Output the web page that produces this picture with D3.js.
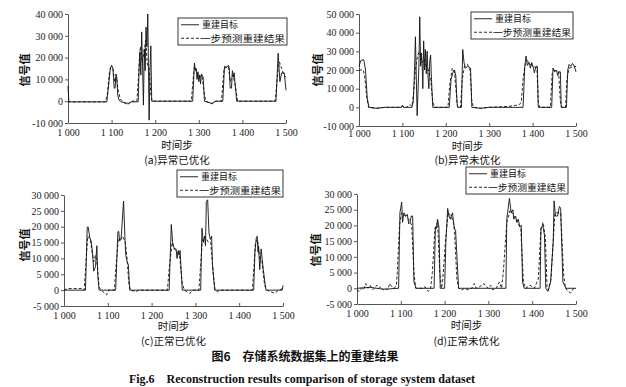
<!DOCTYPE html>
<meta charset="utf-8">
<style>
  body { margin: 0; background: #fff; }
  .tick text { font-family: "Liberation Serif", "DejaVu Serif", serif; font-size: 10px; fill: #222; }
  .axis path, .axis line { stroke: #555; }
  .cjk { font-family: "Noto Sans CJK SC", sans-serif; fill: #111; }
  .target { fill: none; stroke: #111; stroke-width: 0.9px; }
  .pred { fill: none; stroke: #111; stroke-width: 0.9px; stroke-dasharray: 3,2; }
</style>
<svg width="626" height="387"></svg>
<script src="https://cdn.jsdelivr.net/npm/d3@7/dist/d3.min.js"></script>
<script>

// x ticks shared by all panels
var xTicks = [1000, 1100, 1200, 1300, 1400, 1500]

// (a) 异常已优化
var targetA = [[1000,7000],[1002,-300],[1089,-300],[1092,5000],[1097,15000],[1100,16500],[1103,15000],[1106,6000],[1108,6000],
  [1110,12500],[1112,11000],[1114,3000],[1117,500],[1122,-300],[1138,-1000],[1145,-300],[1161,-300],[1163,15000],[1165,22600],
  [1167,12000],[1169,31800],[1171,16000],[1173,-1800],[1175,24000],[1177,14000],[1179,34000],[1181,25000],[1183,40000],
  [1186,-8700],[1188,14000],[1190,25400],[1192,0],[1286,0],[1290,17500],[1292,14000],[1294,15000],[1296,10000],[1298,13500],
  [1300,9000],[1302,12000],[1304,8000],[1306,12500],[1310,11000],[1313,0],[1330,-1000],[1338,0],[1355,0],[1359,16000],
  [1364,15500],[1368,16500],[1370,15000],[1372,6000],[1375,6000],[1377,14000],[1380,11000],[1381,13000],[1387,0],[1477,0],
  [1482,22000],[1486,9000],[1490,13000],[1496,13000],[1500,5000]]
var predA = [[1000,0],[1002,-300],[1086,-300],[1090,3000],[1095,13000],[1098,15500],[1103,15000],[1107,9000],[1111,11000],
  [1115,5000],[1120,1000],[1130,-1000],[1138,-1500],[1145,0],[1158,0],[1162,12000],[1164,20000],[1166,25000],[1170,18000],
  [1174,22000],[1178,28000],[1182,17000],[1186,15000],[1190,3000],[1193,0],[1283,0],[1286,8000],[1290,16000],[1296,13000],
  [1302,11000],[1307,12000],[1313,3000],[1316,0],[1330,-1200],[1340,0],[1352,0],[1355,8000],[1358,15000],[1368,16000],
  [1372,9000],[1378,12000],[1383,8000],[1389,0],[1475,0],[1479,8000],[1482,15000],[1485,18000],[1490,15000],[1495,12000],
  [1500,11000]]

// (b) 异常未优化
var targetB = [[1000,22000],[1004,25000],[1011,25500],[1015,20000],[1019,5000],[1023,0],[1040,-500],[1060,0],[1098,0],
  [1100,1000],[1102,0],[1122,0],[1125,3000],[1128,20000],[1130,37800],[1134,-4500],[1138,22000],[1140,48500],[1142,22000],
  [1144,29000],[1146,20000],[1147,10000],[1149,35600],[1151,20000],[1153,31000],[1155,18000],[1157,30000],[1159,17000],
  [1161,10000],[1163,25000],[1165,28000],[1167,15000],[1170,0],[1208,0],[1212,15000],[1217,19000],[1220,20000],[1223,17000],
  [1226,2000],[1228,0],[1236,0],[1239,31000],[1242,24000],[1245,21000],[1250,22000],[1257,21000],[1260,0],[1280,-500],
  [1300,0],[1378,0],[1382,22000],[1385,27500],[1388,22500],[1392,24000],[1395,21000],[1398,24000],[1402,21000],[1404,18500],
  [1408,22000],[1411,22000],[1413,0],[1444,0],[1447,21000],[1451,19000],[1455,20000],[1458,17000],[1461,19000],[1464,19000],
  [1466,0],[1478,0],[1481,20000],[1484,23000],[1488,22000],[1492,23500],[1496,22000],[1500,19000]]
var predB = [[1000,20000],[1010,20000],[1014,15000],[1018,5000],[1022,0],[1040,-500],[1060,0],[1095,0],[1100,800],[1110,0],
  [1118,1500],[1122,500],[1126,8000],[1130,20000],[1135,28000],[1140,30000],[1145,24000],[1150,26000],[1155,22000],
  [1160,20000],[1165,15000],[1170,3000],[1174,0],[1205,0],[1209,12000],[1215,21000],[1220,19000],[1224,8000],[1227,0],
  [1234,0],[1238,15000],[1243,22000],[1250,23000],[1256,20000],[1260,3000],[1264,0],[1280,-500],[1300,0],[1345,500],
  [1360,1000],[1370,1500],[1374,3000],[1378,15000],[1382,22000],[1388,25000],[1395,23000],[1402,22000],[1410,21000],
  [1413,3000],[1416,0],[1441,0],[1445,18000],[1450,20000],[1460,19000],[1464,3000],[1467,0],[1476,0],[1479,15000],
  [1484,21000],[1500,22000]]

// (c) 正常已优化
var targetC = [[1000,0],[1049,0],[1053,19800],[1055,20000],[1059,16500],[1062,15500],[1065,12000],[1068,6000],[1072,7500],
  [1075,14000],[1077,5000],[1080,0],[1118,0],[1123,18400],[1125,18500],[1127,15500],[1130,16000],[1131,17500],[1136,28100],
  [1139,17000],[1141,11000],[1144,9000],[1147,8000],[1150,0],[1240,0],[1245,20700],[1248,15000],[1252,13000],[1256,13000],
  [1258,10000],[1261,12500],[1263,11000],[1265,12500],[1270,0],[1312,0],[1315,19500],[1318,15000],[1321,17000],[1323,14000],
  [1325,28000],[1328,28500],[1331,18000],[1334,16000],[1337,17000],[1339,8000],[1344,0],[1433,0],[1436,12000],[1439,16500],
  [1441,17000],[1443,12000],[1444,14000],[1447,6500],[1450,13000],[1455,6500],[1461,0],[1498,0],[1500,1500]]
var predC = [[1000,0],[1008,500],[1040,500],[1046,0],[1050,8000],[1054,17000],[1060,16000],[1064,12000],[1068,9000],
  [1072,11000],[1076,8000],[1080,1000],[1085,0],[1097,-1500],[1102,0],[1115,0],[1119,8000],[1124,16000],[1130,16000],
  [1134,17000],[1140,15000],[1144,10000],[1148,2000],[1152,0],[1165,-500],[1170,0],[1236,0],[1241,8000],[1247,15000],
  [1252,13000],[1258,12000],[1264,11000],[1270,2000],[1275,0],[1287,-1000],[1295,0],[1308,0],[1312,8000],[1316,16000],
  [1322,17000],[1330,15000],[1335,15000],[1341,5000],[1345,0],[1350,-500],[1356,0],[1430,0],[1434,8000],[1437,15000],
  [1442,16000],[1447,10000],[1452,9000],[1458,1500],[1463,0],[1481,-1000],[1490,0],[1500,500]]

// (d) 正常未优化
var targetD = [[1000,0],[1030,300],[1060,-300],[1095,0],[1098,24000],[1102,27400],[1104,21000],[1107,24000],[1112,23000],
  [1115,23500],[1118,20500],[1121,21000],[1124,23000],[1127,23000],[1130,2000],[1135,0],[1176,0],[1179,19500],[1181,19000],
  [1184,22000],[1187,19500],[1190,0],[1200,0],[1203,15000],[1207,25400],[1210,23000],[1213,22000],[1218,24000],[1222,19000],
  [1225,18500],[1232,0],[1340,0],[1342,22000],[1348,28600],[1352,24000],[1356,25000],[1358,22000],[1362,23000],[1365,21000],
  [1368,22000],[1372,19500],[1375,20000],[1378,2000],[1382,0],[1418,0],[1420,19000],[1424,20000],[1428,17000],[1431,0],
  [1436,-1000],[1442,2000],[1448,15000],[1450,27800],[1453,23000],[1458,23000],[1462,26000],[1465,25500],[1470,2000],
  [1477,0],[1500,0]]
var predD = [[1000,-500],[1005,-1000],[1010,0],[1015,-500],[1020,1500],[1025,0],[1030,1000],[1035,-500],[1040,0],[1045,1000],
  [1050,0],[1055,500],[1060,-500],[1065,0],[1070,-500],[1075,1500],[1080,500],[1085,0],[1090,1000],[1092,5000],[1097,20000],
  [1102,24000],[1110,23000],[1118,22000],[1125,20000],[1130,5000],[1134,0],[1150,0],[1155,500],[1163,-1000],[1168,0],
  [1172,5000],[1178,19000],[1184,21000],[1189,5000],[1193,0],[1196,3000],[1202,15000],[1208,24000],[1215,23000],[1222,20000],
  [1228,3000],[1232,0],[1240,-500],[1245,0],[1255,-500],[1262,0],[1268,1500],[1272,0],[1280,500],[1285,1000],[1290,1500],
  [1295,500],[1300,0],[1305,1000],[1310,-500],[1318,0],[1325,2000],[1330,0],[1334,5000],[1342,21000],[1350,25000],
  [1358,23000],[1366,21000],[1374,19000],[1380,2000],[1385,0],[1395,1000],[1405,0],[1414,3000],[1420,19000],[1425,21000],
  [1430,16000],[1434,0],[1437,-500],[1443,3000],[1445,8000],[1452,24000],[1465,24000],[1472,4000],[1476,0],[1482,-1000],
  [1488,-1500],[1495,0],[1500,0]]

var legendNames = ['重建目标', '一步预测重建结果']

var panels = [
  {title: '(a)异常已优化', target: targetA, pred: predA, yDomain: [-10000, 40000], yStep: 10000,
   x0: 68, x1: 286, top: 14, bottom: 123, pad: 6, lg: [178, 18, 109, 27], yl: [25, 70], xl: 148.5, st: 163.5},
  {title: '(b)异常未优化', target: targetB, pred: predB, yDomain: [-10000, 50000], yStep: 10000,
   x0: 359, x1: 576, top: 14, bottom: 126, pad: 4, lg: [471, 12, 102, 27], yl: [318, 70], xl: 150, st: 163.5},
  {title: '(c)正常已优化', target: targetC, pred: predC, yDomain: [-5000, 30000], yStep: 5000,
   x0: 64, x1: 283, top: 195, bottom: 306, pad: 6, lg: [177, 170, 106, 27], yl: [25, 245], xl: 329.5, st: 345},
  {title: '(d)正常未优化', target: targetD, pred: predD, yDomain: [-5000, 30000], yStep: 5000,
   x0: 357, x1: 576, top: 194, bottom: 304, pad: 6, lg: [466, 167, 102, 27], yl: [316, 250], xl: 329, st: 345}
]

var loc = d3.formatLocale({decimal: '.', thousands: ' ', grouping: [3], currency: ['', ''], minus: '-'})
var fmt = loc.format(',d')

var svg = d3.select('svg')

panels.forEach(function (p) {
  var g = svg.append('g')
  var x = d3.scaleLinear().domain([1000, 1500]).range([p.x0, p.x1])
  var y = d3.scaleLinear().domain(p.yDomain).range([p.bottom, p.top])

  var yTicks = d3.range(p.yDomain[0], p.yDomain[1] + 1, p.yStep)

  g.append('g').attr('class', 'axis')
    .attr('transform', 'translate(0,' + p.bottom + ')')
    .call(d3.axisBottom(x).tickValues(xTicks).tickFormat(fmt).tickSizeInner(-3).tickSizeOuter(0).tickPadding(p.pad))
  g.append('g').attr('class', 'axis')
    .attr('transform', 'translate(' + p.x0 + ',0)')
    .call(d3.axisLeft(y).tickValues(yTicks).tickFormat(fmt).tickSizeInner(3).tickSizeOuter(0).tickPadding(2))

  var line = d3.line().x(function (d) { return x(d[0]) }).y(function (d) { return y(d[1]) })
  g.append('path').datum(p.pred).attr('class', 'pred').attr('d', line)
  g.append('path').datum(p.target).attr('class', 'target').attr('d', line)

  // legend
  var lx = p.lg[0], ly = p.lg[1], lw = p.lg[2], lh = p.lg[3]
  g.append('rect').attr('x', lx).attr('y', ly).attr('width', lw).attr('height', lh)
    .attr('fill', '#fff').attr('stroke', '#222').attr('stroke-width', 0.9)
  var r1 = ly + lh * 0.25, r2 = ly + lh * 0.75
  g.append('line').attr('x1', lx + 3).attr('x2', lx + 21).attr('y1', r1).attr('y2', r1).attr('class', 'target')
  g.append('line').attr('x1', lx + 3).attr('x2', lx + 22).attr('y1', r2).attr('y2', r2).attr('class', 'pred')
  g.append('text').attr('class', 'cjk').attr('x', lx + 24).attr('y', r1 + 3.3)
    .style('font-size', '9px').text(legendNames[0])
  g.append('text').attr('class', 'cjk').attr('x', lx + 22).attr('y', r2 + 3.3)
    .attr('textLength', lw - 24).attr('lengthAdjust', 'spacingAndGlyphs')
    .style('font-size', '9px').text(legendNames[1])

  // axis titles
  g.append('text').attr('class', 'cjk')
    .attr('transform', 'translate(' + p.yl[0] + ',' + p.yl[1] + ') rotate(-90)')
    .attr('text-anchor', 'middle').attr('dy', '0.35em')
    .style('font-size', '11px').style('font-weight', 'bold').text('信号值')
  g.append('text').attr('class', 'cjk').attr('x', (p.x0 + p.x1) / 2).attr('y', p.xl)
    .attr('text-anchor', 'middle').style('font-size', '10.5px').text('时间步')
  g.append('text').attr('class', 'cjk').attr('x', (p.x0 + p.x1) / 2).attr('y', p.st)
    .attr('text-anchor', 'middle').style('font-size', '10.5px').text(p.title)
})

svg.append('text').attr('class', 'cjk').attr('x', 305).attr('y', 361)
  .attr('text-anchor', 'middle').style('font-size', '12px').style('font-weight', 'bold')
  .text('图6\u2003存储系统数据集上的重建结果')
svg.append('text').attr('x', 302).attr('y', 383)
  .attr('text-anchor', 'middle').style('font-family', '"Liberation Serif", serif')
  .style('font-size', '12px').style('font-weight', 'bold').attr('fill', '#111')
  .text('Fig.6\u2003Reconstruction results comparison of storage system dataset')

</script>
